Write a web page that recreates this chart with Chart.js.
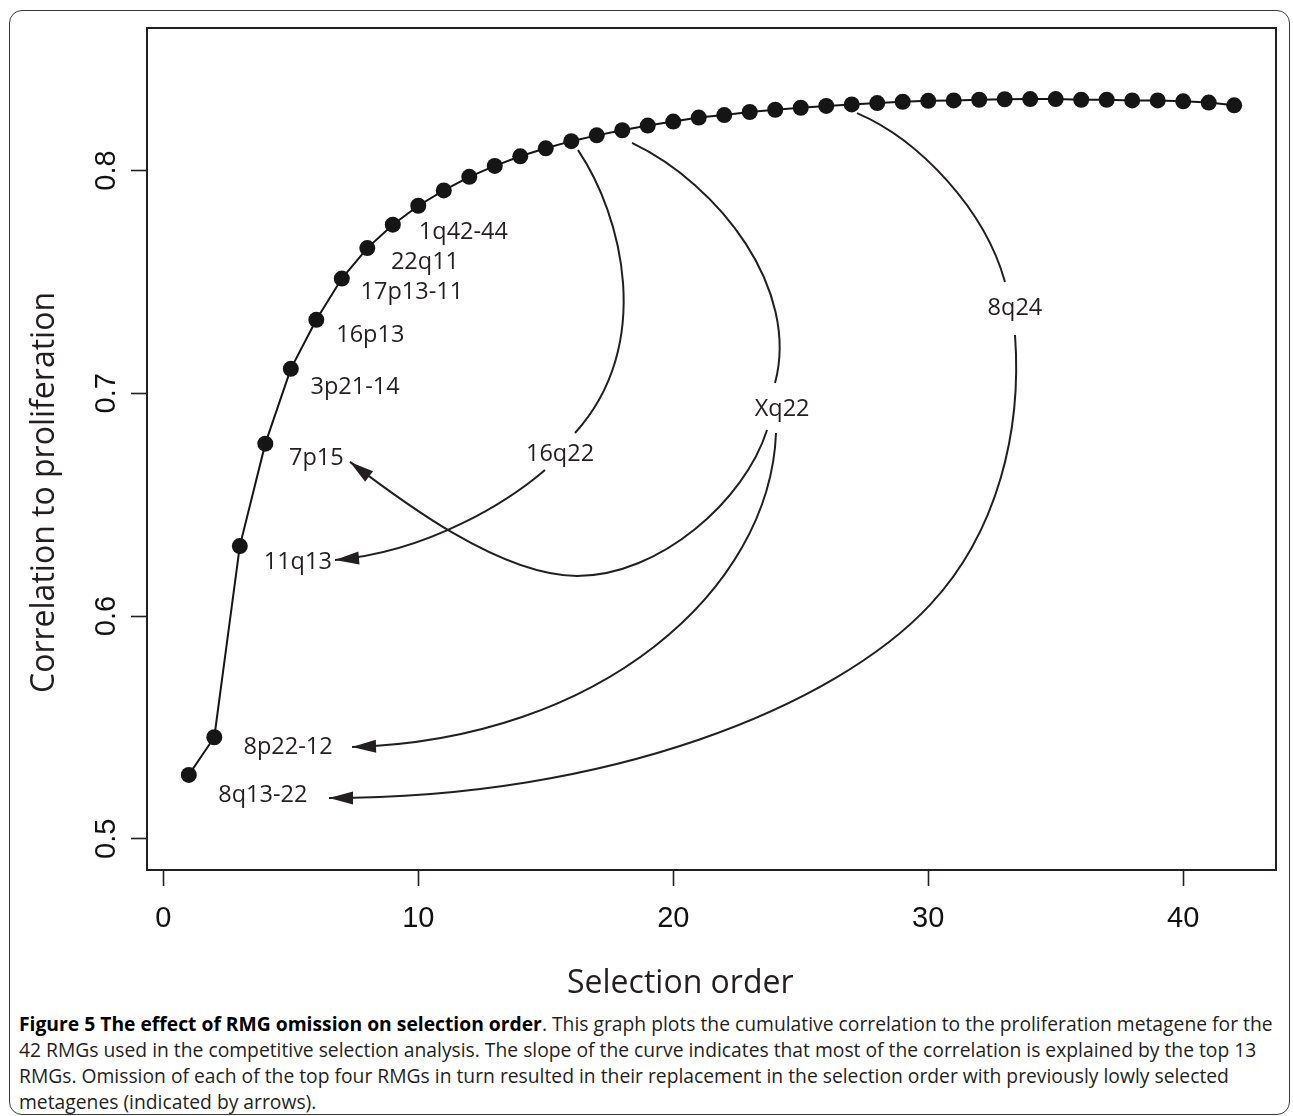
<!DOCTYPE html>
<html>
<head>
<meta charset="utf-8">
<script src="https://cdn.jsdelivr.net/npm/chart.js@4.4.1/dist/chart.umd.min.js"></script>
<style>
html,body{margin:0;padding:0;background:#fff;}
#wrap{position:relative;width:1293px;height:1116px;overflow:hidden;background:#fff;}
#frame{position:absolute;left:9px;top:10px;width:1281px;height:1105px;border:1.5px solid #3a3a3a;border-radius:13px;box-sizing:border-box;}
#c{position:absolute;left:0;top:0;}
.t{position:absolute;font-family:'Open Sans';color:#231f20;white-space:nowrap;line-height:1;}
#xt{left:567px;top:965px;font-size:32px;}
#yt{left:25.6px;top:693.3px;font-size:32px;transform-origin:0 0;transform:rotate(-90deg);}
#cap{position:absolute;left:19px;top:1011px;font-family:'Open Sans';font-size:19.3px;line-height:26px;color:#231f20;white-space:nowrap;}
#cap b{color:#000;font-weight:700;}
</style>
</head>
<body>
<div id="wrap">
  <div id="frame"></div>
  <canvas id="c" width="1293" height="1000"></canvas>
  <div class="t" id="xt">Selection order</div>
  <div class="t" id="yt">Correlation to proliferation</div>
  <div id="cap"><b>Figure 5 The effect of RMG omission on selection order</b>. This graph plots the cumulative correlation to the proliferation metagene for the<br>42 RMGs used in the competitive selection analysis. The slope of the curve indicates that most of the correlation is explained by the top 13<br>RMGs. Omission of each of the top four RMGs in turn resulted in their replacement in the selection order with previously lowly selected<br>metagenes (indicated by arrows).</div>
</div>
<script>
// ---------------- data ----------------
const selectionOrder = [1,2,3,4,5,6,7,8,9,10,11,12,13,14,15,16,17,18,19,20,21,22,23,24,25,26,27,28,29,30,31,32,33,34,35,36,37,38,39,40,41,42];
const correlation = [0.5287,0.5456,0.6314,0.6774,0.7110,0.7330,0.7515,0.7652,0.7757,0.7842,
                     0.7911,0.7972,0.8021,0.8064,0.8100,0.8132,0.8158,0.8181,0.8202,0.8220,
                     0.8238,0.8249,0.8263,0.8273,0.8282,0.8290,0.8297,0.8303,0.8309,0.8313,
                     0.8315,0.8318,0.8320,0.8321,0.8321,0.8318,0.8318,0.8315,0.8315,0.8311,
                     0.8305,0.8293];
const xTickValues = [0,10,20,30,40];
const yTickValues = [0.5,0.6,0.7,0.8];
// region names for the first nine selected RMGs (selection order 1..9)
const regionLabels = ['8q13-22','8p22-12','11q13','7p15','3p21-14','16p13','17p13-11','22q11','1q42-44'];

// replacement arrows: cubic Bezier segments [start, control1, control2, end] in data units (selection order, correlation)
const arrow16q22 = [
  [[16.265,0.8092],[17.990,0.7800],[19.285,0.7217],[16.147,0.6822]],
  [[14.970,0.6656],[13.598,0.6521],[10.460,0.6288],[6.734,0.6252]]
];
const curveXq22 = [
  [[18.383,0.8124],[21.834,0.7935],[24.971,0.7464],[23.991,0.7046]]
];
const arrowXq22to8p = [
  [[24.030,0.6822],[23.795,0.6117],[17.128,0.5444],[7.401,0.5412]]
];
const arrowXq22to7p = [
  [[23.677,0.6835],[22.814,0.6521],[19.481,0.6180],[16.225,0.6180]],
  [[16.225,0.6180],[13.206,0.6180],[9.283,0.6521],[7.322,0.6692]]
];
const arrow8q24 = [
  [[27.207,0.8258],[29.678,0.8137],[32.227,0.7823],[33.012,0.7500]],
  [[33.404,0.7262],[33.678,0.6835],[32.737,0.6377],[30.070,0.6050]],
  [[30.070,0.6050],[26.341,0.5592],[17.481,0.5183],[6.499,0.5183]]
];
const arrowLabels = ['16q22','Xq22','8q24'];
const arrowLabelPos = [[15.56,0.6736],[24.27,0.6938],[33.40,0.7387]];

// ---------------- styles ----------------
const INK = '#231f20';
const labelOffsets = [[74,18.7],[73.7,8.3],[58,14.3],[51,13.4],[64.3,16.7],[54,14],[70,12.4],[57.7,12.3],[70.6,5.7]];
const curveDefs = [
  {segs: arrow16q22, head: true},
  {segs: curveXq22, head: false},
  {segs: arrowXq22to8p, head: true},
  {segs: arrowXq22to7p, head: true},
  {segs: arrow8q24, head: true}
];
const ANNOT_SIZE = 23.5;

function arrowHead(ctx, from, tip) {
  const dx = tip[0] - from[0], dy = tip[1] - from[1];
  const len = Math.hypot(dx, dy) || 1;
  const ux = dx / len, uy = dy / len;
  const L = 24, W = 6.5;
  const bx = tip[0] - ux * L, by = tip[1] - uy * L;
  ctx.beginPath();
  ctx.moveTo(tip[0], tip[1]);
  ctx.lineTo(bx - uy * W, by + ux * W);
  ctx.lineTo(bx + uy * W, by - ux * W);
  ctx.closePath();
  ctx.fill();
}

const annotationPlugin = {
  id: 'annotations',
  afterDatasetsDraw(chart) {
    const ctx = chart.ctx, xs = chart.scales.x, ys = chart.scales.y;
    const toPx = p => [xs.getPixelForValue(p[0]), ys.getPixelForValue(p[1])];
    ctx.save();
    ctx.strokeStyle = INK; ctx.fillStyle = INK; ctx.lineWidth = 2; ctx.lineCap = 'butt'; ctx.lineJoin = 'round';
    curveDefs.forEach(c => {
      ctx.beginPath();
      let prevEnd = null, lastSeg = null;
      c.segs.forEach(s => {
        const P = s.map(toPx);
        if (!prevEnd || Math.hypot(prevEnd[0] - P[0][0], prevEnd[1] - P[0][1]) > 0.5) ctx.moveTo(P[0][0], P[0][1]);
        ctx.bezierCurveTo(P[1][0], P[1][1], P[2][0], P[2][1], P[3][0], P[3][1]);
        prevEnd = P[3]; lastSeg = P;
      });
      ctx.stroke();
      if (c.head) arrowHead(ctx, lastSeg[2], lastSeg[3]);
    });
    ctx.font = ANNOT_SIZE + 'px "Open Sans"';
    ctx.textAlign = 'center';
    ctx.textBaseline = 'alphabetic';
    const capHalf = ANNOT_SIZE * 0.357;
    arrowLabels.forEach((t, i) => {
      const p = toPx(arrowLabelPos[i]);
      ctx.fillText(t, p[0], p[1] + capHalf);
    });
    regionLabels.forEach((t, i) => {
      const px = xs.getPixelForValue(selectionOrder[i]);
      const py = ys.getPixelForValue(correlation[i]);
      ctx.fillText(t, px + labelOffsets[i][0], py + labelOffsets[i][1] + capHalf);
    });
    ctx.restore();
  },
  afterDraw(chart) {
    const a = chart.chartArea, ctx = chart.ctx;
    ctx.save();
    ctx.strokeStyle = INK; ctx.lineWidth = 2;
    ctx.strokeRect(a.left, a.top, a.right - a.left, a.bottom - a.top);
    ctx.restore();
  }
};

new Chart(document.getElementById('c'), {
  type: 'line',
  data: {
    datasets: [{
      data: selectionOrder.map((x, i) => ({x: x, y: correlation[i]})),
      borderColor: '#151515',
      borderWidth: 2,
      pointRadius: 8,
      pointBorderWidth: 0,
      pointBackgroundColor: '#151515',
      tension: 0,
      fill: false,
      clip: false
    }]
  },
  options: {
    responsive: false,
    animation: false,
    devicePixelRatio: 1,
    events: [],
    layout: {padding: {left: 0, right: 17, top: 28, bottom: 0}},
    plugins: {legend: {display: false}, tooltip: {enabled: false}, title: {display: false}},
    scales: {
      x: {
        type: 'linear', position: 'bottom', min: -0.64, max: 43.64,
        afterFit: s => { s.height = 130; },
        afterBuildTicks: s => { s.ticks = xTickValues.map(v => ({value: v})); },
        ticks: {font: {family: 'Liberation Sans', size: 29}, color: '#111', padding: 16, maxRotation: 0, callback: v => String(v)},
        grid: {display: true, drawOnChartArea: false, drawTicks: true, tickLength: 16, tickWidth: 1.6, tickColor: INK},
        border: {display: false}
      },
      y: {
        type: 'linear', position: 'left', min: 0.486, max: 0.864,
        afterFit: s => { s.width = 147; },
        afterBuildTicks: s => { s.ticks = yTickValues.map(v => ({value: v})); },
        ticks: {font: {family: 'Liberation Sans', size: 29}, color: '#111', padding: 4, minRotation: 90, maxRotation: 90, crossAlign: 'center', callback: v => v.toFixed(1)},
        grid: {display: true, drawOnChartArea: false, drawTicks: true, tickLength: 16, tickWidth: 1.6, tickColor: INK},
        border: {display: false}
      }
    }
  },
  plugins: [annotationPlugin]
});
</script>
</body>
</html>
